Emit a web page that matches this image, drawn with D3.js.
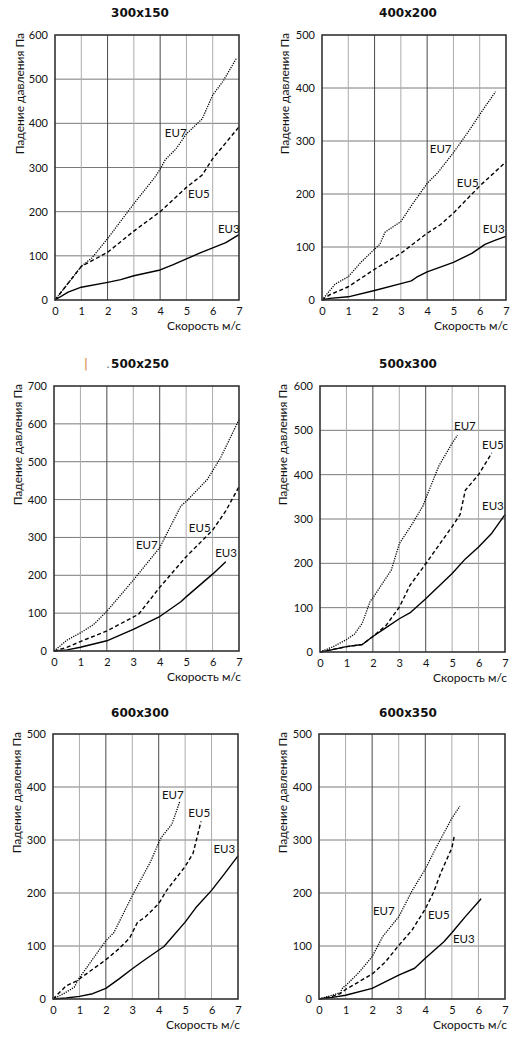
<!DOCTYPE html>
<html><head><meta charset="utf-8">
<script src="https://cdn.jsdelivr.net/npm/d3@7"></script>
<style>body{margin:0;background:#fff}</style>
</head><body>
<svg id="c" width="527" height="1048"></svg>
<script>
// ---------- data ----------
const titles = ["300x150", "400x200", "500x250", "500x300", "600x300", "600x350"];
const yMaxes = [600, 500, 700, 600, 500, 500];
const xTickValues = [0, 1, 2, 3, 4, 5, 6, 7];
const seriesNames = ["EU3", "EU5", "EU7"];
const xAxisTitle = "Скорость м/с";
const yAxisTitle = "Падение давления Па";

// [velocity m/s, pressure drop Pa]
const eu3_300x150 = [[0,0],[0.5,18],[1,29],[2,40],[2.5,46],[3,55],[4,68],[4.5,80],[5,93],[5.5,106],[6,118],[6.5,130],[7,148]];
const eu5_300x150 = [[0,0],[1,76],[2,108],[3,156],[4,200],[5,255],[5.6,283],[6,320],[7,392]];
const eu7_300x150 = [[0,0],[1,76],[1.4,95],[2,139],[3,218],[3.8,278],[4,296],[4.2,318],[4.6,342],[5,376],[5.6,410],[6,464],[6.4,496],[6.9,547]];

const eu3_400x200 = [[0,0],[0.3,3],[1,6],[2,18],[3,31],[3.4,36],[3.6,43],[4,53],[5,71],[5.7,88],[6.2,105],[6.6,113],[7,120]];
const eu5_400x200 = [[0,0],[0.3,10],[1,25],[2,58],[3,88],[4,126],[4.5,142],[5,164],[6,215],[7,261]];
const eu7_400x200 = [[0,0],[0.2,12],[0.5,30],[1,44],[1.5,72],[2,96],[2.2,105],[2.4,128],[3,148],[3.5,185],[4,220],[4.4,240],[5,278],[5.6,320],[6,350],[6.6,393]];

const eu3_500x250 = [[0,0],[0.5,3],[1,10],[2,27],[3,57],[4,91],[4.8,130],[5,143],[6,203],[6.5,236]];
const eu5_500x250 = [[0,0],[0.5,10],[1,25],[2,53],[3.2,97],[4,168],[5,249],[6,319],[6.5,370],[7,434]];
const eu7_500x250 = [[0,0],[0.5,29],[1,48],[1.5,70],[2,105],[3,187],[3.5,230],[4,273],[4.8,383],[5,395],[5.8,453],[6.3,510],[7,611]];

const eu3_500x300 = [[0,0],[0.3,3],[1,12],[1.6,17],[2,35],[2.5,55],[3,75],[3.4,88],[4,120],[5,177],[5.5,210],[6,237],[6.5,268],[7,310]];
const eu5_500x300 = [[0,0],[1,12],[1.6,17],[2,35],[2.5,60],[3,101],[3.4,150],[4,199],[5,283],[5.3,310],[5.5,365],[6,400],[6.5,449]];
const eu7_500x300 = [[0,0],[0.5,12],[1,28],[1.3,40],[1.6,65],[1.9,115],[2,122],[2.7,185],[3,244],[3.5,290],[3.9,330],[4,346],[4.5,420],[5,471],[5.2,489]];

const eu3_600x300 = [[0,0],[0.5,2],[1,5],[1.5,10],[2,20],[2.5,38],[3,57],[3.5,75],[4.2,99],[5,145],[5.4,172],[6,205],[6.5,237],[7,270]];
const eu5_600x300 = [[0,0],[0.5,25],[0.9,34],[1,38],[2,74],[2.5,95],[2.9,115],[3.2,145],[3.5,155],[4,180],[4.3,205],[5,250],[5.3,275],[5.6,335]];
const eu7_600x300 = [[0,0],[0.4,10],[0.8,22],[1,40],[2,110],[2.3,125],[3,195],[3.7,260],[4,295],[4.1,305],[4.5,330],[4.8,373]];

const eu3_600x350 = [[0,0],[0.5,3],[1,7],[2,20],[3,45],[3.6,58],[4,77],[4.7,108],[5,125],[5.5,155],[6.1,189]];
const eu5_600x350 = [[0,0],[0.5,5],[0.8,10],[1,18],[2,47],[2.5,70],[3,101],[3.5,130],[4,170],[4.3,200],[4.6,240],[5,285],[5.1,310]];
const eu7_600x350 = [[0,0],[0.5,7],[0.8,12],[0.9,22],[1,25],[1.5,50],[2,80],[2.4,118],[3,155],[3.5,204],[4,245],[4.4,285],[5,341],[5.3,364]];

// label anchors [velocity, pressure] for EU3, EU5, EU7
const labels_300x150 = [[6.2,151],[5.06,231],[4.18,369]];
const labels_400x200 = [[6.12,126],[5.13,213],[4.1,277]];
const labels_500x250 = [[6.1,248],[5.1,314],[3.1,269]];
const labels_500x300 = [[6.13,320],[6.13,458],[5.07,501]];
const labels_600x300 = [[6.07,275],[5.12,343],[4.12,377]];
const labels_600x350 = [[5.04,106],[4.1,151],[2.03,158]];

// ---------- layout (pixels) ----------
const layout = [
  {x0:55, x1:239, y0:35, y1:300, tx:140, ty:17, yt:20},
  {x0:322, x1:506, y0:35, y1:300, tx:408, ty:17, yt:285},
  {x0:54, x1:239, y0:386, y1:651, tx:140, ty:368, yt:18},
  {x0:320, x1:505, y0:386, y1:652, tx:408, ty:368, yt:283},
  {x0:53, x1:238, y0:734, y1:999, tx:140, ty:717, yt:17},
  {x0:319, x1:505, y0:734, y1:999, tx:408, ty:717, yt:283}
];

const panelSeries = [
  [eu3_300x150, eu5_300x150, eu7_300x150],
  [eu3_400x200, eu5_400x200, eu7_400x200],
  [eu3_500x250, eu5_500x250, eu7_500x250],
  [eu3_500x300, eu5_500x300, eu7_500x300],
  [eu3_600x300, eu5_600x300, eu7_600x300],
  [eu3_600x350, eu5_600x350, eu7_600x350]
];
const panelLabels = [labels_300x150, labels_400x200, labels_500x250, labels_500x300, labels_600x300, labels_600x350];

const lineStyles = [
  {dash: null, w: 1.4, c: "#000"},
  {dash: "4,2.6", w: 1.4, c: "#000"},
  {dash: "1.2,1.2", w: 1.3, c: "#000"}
];

const svg = d3.select("#c");
const FONT = "Lato, 'Open Sans', sans-serif";

layout.forEach((L, i) => {
  const g = svg.append("g");
  const x = d3.scaleLinear().domain([0, 7]).range([L.x0, L.x1]);
  const y = d3.scaleLinear().domain([0, yMaxes[i]]).range([L.y1, L.y0]);
  const yTicks = d3.range(0, yMaxes[i] + 1, 100);

  // grid
  g.selectAll(".hg").data(yTicks.slice(1, -1)).join("line")
    .attr("x1", L.x0).attr("x2", L.x1)
    .attr("y1", d => y(d)).attr("y2", d => y(d))
    .attr("stroke", "#7a7a7a").attr("stroke-width", 1);
  g.selectAll(".vg").data(xTickValues.slice(1, -1)).join("line")
    .attr("x1", d => x(d)).attr("x2", d => x(d))
    .attr("y1", L.y0).attr("y2", L.y1)
    .attr("stroke", d => (d === 2 || d === 4) ? "#4a4a4a" : "#ababab")
    .attr("stroke-width", 1);

  // axes
  const xa = g.append("g").attr("transform", `translate(0,${L.y1})`)
    .call(d3.axisBottom(x).tickValues(xTickValues).tickFormat(d3.format("d")).tickSize(0).tickPadding(7));
  const ya = g.append("g").attr("transform", `translate(${L.x0},0)`)
    .call(d3.axisLeft(y).tickValues(yTicks).tickFormat(d3.format("d")).tickSize(0).tickPadding(7));
  [xa, ya].forEach(a => {
    a.select(".domain").remove();
    a.selectAll("text").attr("font-family", FONT).attr("font-size", 11).attr("fill", "#111");
  });

  // series
  panelSeries[i].forEach((data, k) => {
    const st = lineStyles[k];
    g.append("path").datum(data)
      .attr("d", d3.line().x(d => x(d[0])).y(d => y(d[1])))
      .attr("fill", "none").attr("stroke", st.c)
      .attr("stroke-width", st.w)
      .attr("stroke-dasharray", st.dash)
      .attr("stroke-linejoin", "round");
  });

  // frame
  g.append("rect").attr("x", L.x0).attr("y", L.y0)
    .attr("width", L.x1 - L.x0).attr("height", L.y1 - L.y0)
    .attr("fill", "none").attr("stroke", "#333").attr("stroke-width", 1.6);

  // series labels
  g.selectAll(".lbl").data(panelLabels[i]).join("text")
    .attr("x", d => x(d[0])).attr("y", d => y(d[1]))
    .attr("font-family", FONT).attr("font-size", 11.5).attr("fill", "#111")
    .text((d, k) => seriesNames[k]);

  // title
  g.append("text").attr("x", L.tx).attr("y", L.ty)
    .attr("text-anchor", "middle")
    .attr("font-family", "'DejaVu Sans', sans-serif").attr("font-weight", "bold")
    .attr("font-size", 12).attr("fill", "#111")
    .text(titles[i]);
  if (i === 2) {
    g.append("text").attr("x", 86).attr("y", L.ty)
      .attr("text-anchor", "middle").attr("font-family", "'DejaVu Sans', sans-serif").attr("font-size", 12)
      .attr("font-weight", "bold").attr("fill", "#e0a35e").text("|");
    g.append("text").attr("x", 108).attr("y", L.ty)
      .attr("text-anchor", "middle").attr("font-family", FONT).attr("font-size", 11)
      .attr("fill", "#555").text(".");
  }

  // axis titles
  g.append("text").attr("x", L.x1 + 2).attr("y", L.y1 + 30)
    .attr("text-anchor", "end")
    .attr("font-family", FONT).attr("font-size", 12).attr("fill", "#111")
    .text(xAxisTitle);
  g.append("text")
    .attr("transform", `translate(${L.yt + 4},${L.y0 - 2}) rotate(-90)`)
    .attr("text-anchor", "end")
    .attr("font-family", FONT).attr("font-size", 12).attr("fill", "#111")
    .text(yAxisTitle);
});
</script>
</body></html>
